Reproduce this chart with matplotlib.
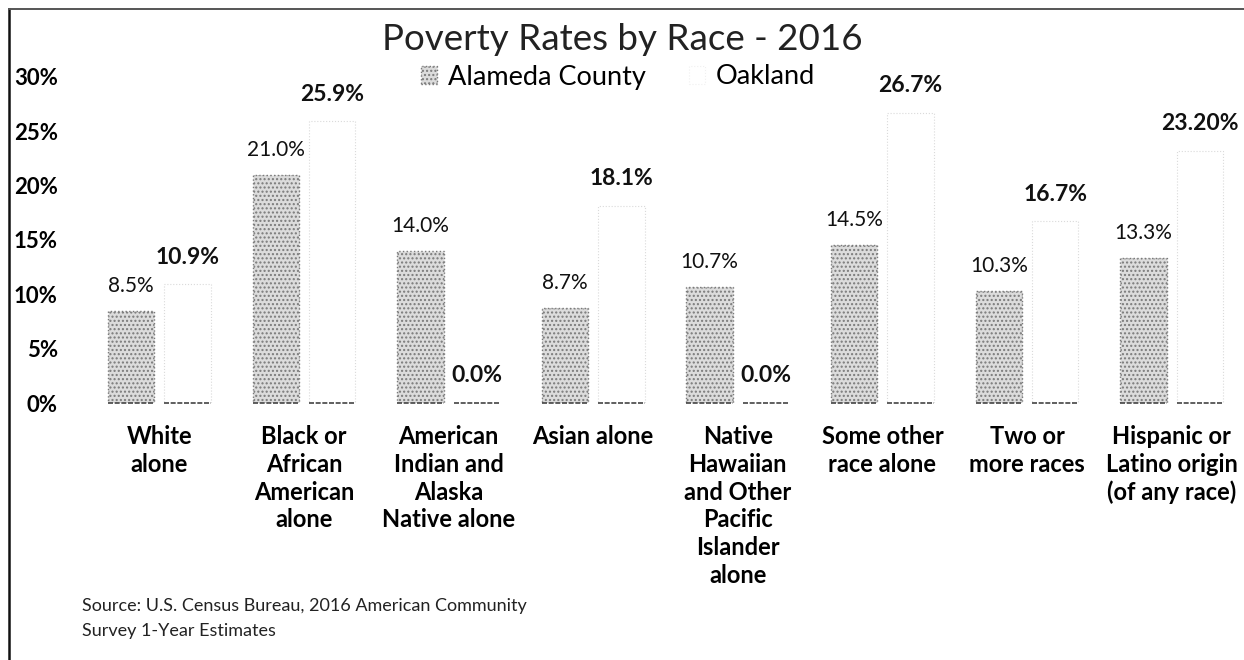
import matplotlib
matplotlib.use("Agg")
import matplotlib.pyplot as plt
from matplotlib.lines import Line2D
from matplotlib.ticker import FuncFormatter
import numpy as np

plt.rcParams['font.family'] = ['Lato', 'DejaVu Sans']

categories = ["White\nalone",
              "Black or\nAfrican\nAmerican\nalone",
              "American\nIndian and\nAlaska\nNative alone",
              "Asian alone",
              "Native\nHawaiian\nand Other\nPacific\nIslander\nalone",
              "Some other\nrace alone",
              "Two or\nmore races",
              "Hispanic or\nLatino origin\n(of any race)"]
alameda = [8.5, 21.0, 14.0, 8.7, 10.7, 14.5, 10.3, 13.3]
oakland = [10.9, 25.9, 0.0, 18.1, 0.0, 26.7, 16.7, 23.2]
oakland_labels = ["10.9%", "25.9%", "0.0%", "18.1%", "0.0%", "26.7%", "16.7%", "23.20%"]
y_ticks = [0, 5, 10, 15, 20, 25, 30]

W, H = 1244, 660
fig = plt.figure(figsize=(W / 100, H / 100), dpi=100)
ax = fig.add_axes([87 / W, 257 / H, 1 - 87 / W, 326.4 / H])

x = np.arange(len(categories))
bw = 0.32
off = 0.195

bars_a = ax.bar(x - off, alameda, bw, facecolor='#dcdcdc', edgecolor='#7a7a7a',
                hatch='....', linestyle=':', linewidth=1.0, label='Alameda County')
bars_o = ax.bar(x + off, oakland, bw, facecolor='white', edgecolor='#dadada',
                linestyle=':', linewidth=0.8, label='Oakland')

# darker strip along each bar base
for p in list(bars_a) + list(bars_o):
    ax.plot([p.get_x(), p.get_x() + p.get_width()], [0, 0],
            color='#444444', lw=1.2, ls=(0, (3, 1)), solid_capstyle='butt',
            clip_on=False)

for p, v in zip(bars_a, alameda):
    ax.annotate(f"{v:.1f}%", (p.get_x() + p.get_width() / 2, v),
                xytext=(0, 18), textcoords='offset points',
                ha='center', va='center', fontsize=15, color='#111111')
for p, v, t in zip(bars_o, oakland, oakland_labels):
    ax.annotate(t, (p.get_x() + p.get_width() / 2, v),
                xytext=(0, 19.5), textcoords='offset points',
                ha='center', va='center', fontsize=16.5, fontweight='bold',
                color='#111111')

ax.set_xlim(-0.5, len(categories) - 0.5)
ax.set_ylim(0, 30)
ax.set_yticks(y_ticks)
ax.yaxis.set_major_formatter(FuncFormatter(lambda v, _: f"{v:.0f}%"))
ax.set_xticks(x)
ax.set_xticklabels(categories, fontsize=17, fontweight='bold', linespacing=1.25)
ax.tick_params(axis='y', length=0, pad=21, labelsize=16)
ax.tick_params(axis='x', length=0, pad=16)
for lab in ax.get_yticklabels():
    lab.set_fontweight('bold')
for s in ax.spines.values():
    s.set_visible(False)

fig.text(0.5, 1 - 39 / H, "Poverty Rates by Race - 2016", ha='center', va='center',
         fontsize=26.5, color='#222222')

leg = ax.legend(handles=[bars_a, bars_o], loc='center', bbox_to_anchor=(618 / W, 1 - 77 / H),
                bbox_transform=fig.transFigure, ncol=2, frameon=False, fontsize=19.5,
                handlelength=0.6, handleheight=0.6, handletextpad=0.4,
                columnspacing=1.6)
leg.legend_handles[1].set_edgecolor('#f0f0f0')

fig.text(82 / W, 1 - 618.5 / H, "Source: U.S. Census Bureau, 2016 American Community\nSurvey 1-Year Estimates",
         ha='left', va='center', fontsize=13, linespacing=1.72, color='#222222')

# scanned frame edges
fig.add_artist(Line2D([9 / W, 9 / W], [0, 1 - 9 / H], transform=fig.transFigure,
                      color='#111111', lw=1.8))
fig.add_artist(Line2D([9 / W, 1], [1 - 9 / H, 1 - 9 / H], transform=fig.transFigure,
                      color='#555555', lw=1.4))

fig.savefig("out.png", dpi=100)
